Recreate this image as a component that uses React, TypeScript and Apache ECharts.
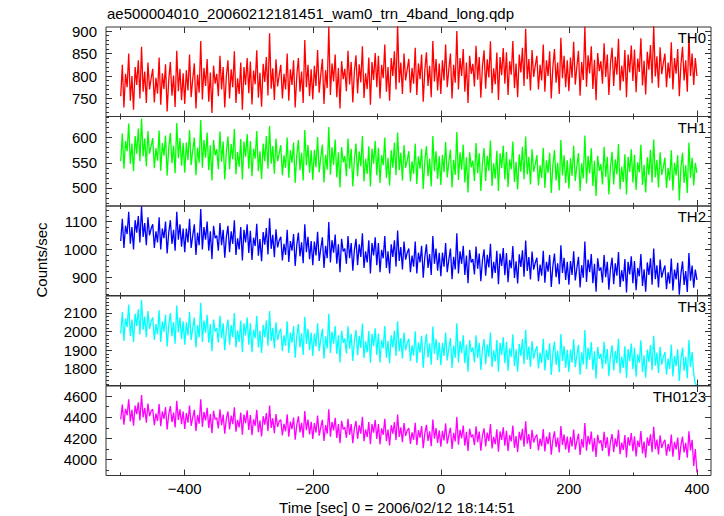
import React, { useEffect, useRef } from "react";
import * as echarts from "echarts";

const TITLE = "ae500004010_20060212181451_wam0_trn_4band_long.qdp";
const X_NAME = "Time [sec] 0 = 2006/02/12 18:14:51";
const Y_NAME = "Counts/sec";
const PANEL_NAMES = ["TH0", "TH1", "TH2", "TH3", "TH0123"];
const PANEL_COLORS = ["#ff0000", "#00ff00", "#0000ff", "#00ffff", "#ff00ff"];
const TIME_START = -500;
const TIME_STEP = 2.5;

const TH0 = [
  755, 825, 730, 805, 775, 850, 745, 800, 725, 820, 780, 835, 750, 865, 765, 810, 740, 830, 770, 795,
  816, 741, 796, 761, 841, 736, 806, 771, 826, 721, 791, 831, 756, 801, 731, 856, 766, 816, 746, 806,
  738, 813, 768, 848, 753, 793, 828, 728, 803, 763, 878, 748, 818, 778, 838, 743, 808, 718, 823, 783,
  805, 755, 845, 770, 820, 730, 800, 835, 750, 815, 775, 855, 740, 795, 760, 830, 725, 820, 780, 840,
  762, 832, 737, 812, 782, 857, 752, 807, 732, 827, 787, 842, 757, 895, 772, 817, 747, 837, 777, 802,
  825, 750, 805, 770, 850, 745, 815, 780, 835, 730, 800, 840, 765, 810, 740, 880, 775, 825, 755, 815,
  748, 823, 778, 858, 763, 803, 838, 738, 813, 773, 910, 758, 828, 788, 848, 753, 818, 728, 833, 793,
  816, 766, 856, 781, 831, 741, 811, 846, 761, 826, 786, 866, 751, 806, 771, 841, 736, 831, 791, 851,
  775, 845, 750, 825, 795, 870, 765, 820, 745, 840, 800, 855, 770, 915, 785, 830, 760, 850, 790, 815,
  838, 763, 818, 783, 863, 758, 828, 793, 848, 743, 813, 853, 778, 823, 753, 878, 788, 838, 768, 828,
  760, 835, 790, 870, 775, 815, 850, 750, 825, 785, 900, 770, 840, 800, 860, 765, 830, 740, 845, 805,
  827, 777, 867, 792, 842, 752, 822, 857, 772, 837, 797, 877, 762, 817, 782, 852, 747, 842, 802, 862,
  783, 853, 758, 833, 803, 878, 773, 828, 753, 848, 808, 863, 778, 905, 793, 838, 768, 858, 798, 823,
  845, 770, 825, 790, 870, 765, 835, 800, 855, 750, 820, 860, 785, 830, 760, 885, 795, 845, 775, 835,
  766, 841, 796, 876, 781, 821, 856, 756, 831, 791, 910, 776, 846, 806, 866, 771, 836, 746, 851, 811,
  833, 783, 873, 798, 848, 758, 828, 863, 778, 843, 803, 883, 768, 823, 788, 858, 753, 848, 808, 868,
  789, 859, 764, 839, 809, 884, 779, 834, 759, 854, 814, 869, 784, 912, 799, 844, 774, 864, 804, 829,
  850, 775, 830, 795, 875, 770, 840, 805, 860, 755, 825, 865, 790, 835, 765, 890, 800, 850, 780, 840,
  800,
];

const TH1 = [
  553, 608, 538, 593, 573, 628, 548, 588, 533, 603, 568, 618, 553, 638, 563, 598, 543, 613, 568, 583,
  599, 539, 579, 554, 614, 534, 589, 564, 604, 524, 579, 609, 549, 584, 529, 629, 559, 599, 544, 589,
  530, 590, 555, 615, 545, 575, 600, 525, 580, 550, 635, 540, 595, 560, 610, 535, 585, 515, 595, 565,
  577, 537, 612, 552, 592, 517, 572, 602, 537, 587, 557, 617, 527, 572, 542, 597, 517, 592, 562, 607,
  538, 593, 523, 578, 558, 613, 533, 573, 518, 588, 553, 603, 538, 623, 548, 583, 528, 598, 553, 568,
  585, 525, 565, 540, 600, 520, 575, 550, 590, 510, 565, 595, 535, 570, 515, 615, 545, 585, 530, 575,
  516, 576, 541, 601, 531, 561, 586, 511, 566, 536, 621, 526, 581, 546, 596, 521, 571, 501, 581, 551,
  563, 523, 598, 538, 578, 503, 558, 588, 523, 573, 543, 603, 513, 558, 528, 583, 503, 578, 548, 593,
  525, 580, 510, 565, 545, 600, 520, 560, 505, 575, 540, 590, 525, 610, 535, 570, 515, 585, 540, 555,
  573, 513, 553, 528, 588, 508, 563, 538, 578, 498, 553, 583, 523, 558, 503, 603, 533, 573, 518, 563,
  506, 566, 531, 591, 521, 551, 576, 501, 556, 526, 611, 516, 571, 536, 586, 511, 561, 491, 571, 541,
  554, 514, 589, 529, 569, 494, 549, 579, 514, 564, 534, 594, 504, 549, 519, 574, 494, 569, 539, 584,
  517, 572, 502, 557, 537, 592, 512, 552, 497, 567, 532, 582, 517, 602, 527, 562, 507, 577, 532, 547,
  565, 505, 545, 520, 580, 500, 555, 530, 570, 490, 545, 575, 515, 550, 495, 595, 525, 565, 510, 555,
  499, 559, 524, 584, 514, 544, 569, 494, 549, 519, 604, 509, 564, 529, 579, 504, 554, 484, 564, 534,
  547, 507, 582, 522, 562, 487, 542, 572, 507, 557, 527, 587, 497, 542, 512, 567, 487, 562, 532, 577,
  511, 566, 496, 551, 531, 586, 506, 546, 491, 561, 526, 576, 511, 596, 521, 556, 501, 571, 526, 541,
  560, 500, 540, 515, 575, 495, 550, 525, 565, 475, 540, 570, 510, 545, 490, 590, 520, 560, 505, 550,
  530,
];

const TH2 = [
  1030, 1110, 1005, 1085, 1055, 1135, 1020, 1080, 1000, 1105, 1060, 1120, 1025, 1155, 1045, 1095, 1015, 1115, 1050, 1075,
  1090, 1005, 1065, 1025, 1115, 1000, 1075, 1040, 1100, 985, 1060, 1105, 1020, 1070, 995, 1135, 1035, 1090, 1010, 1075,
  990, 1075, 1025, 1110, 1005, 1050, 1090, 980, 1060, 1015, 1145, 1000, 1080, 1035, 1100, 995, 1065, 965, 1085, 1040,
  1050, 995, 1095, 1015, 1070, 970, 1045, 1085, 990, 1065, 1020, 1105, 980, 1040, 1000, 1080, 960, 1070, 1025, 1090,
  987, 1067, 962, 1042, 1012, 1092, 977, 1037, 957, 1062, 1017, 1077, 982, 1112, 1002, 1052, 972, 1072, 1007, 1032,
  1045, 960, 1020, 980, 1070, 955, 1030, 995, 1055, 940, 1015, 1060, 975, 1025, 950, 1090, 990, 1045, 965, 1030,
  943, 1028, 978, 1063, 958, 1003, 1043, 933, 1013, 968, 1098, 953, 1033, 988, 1053, 948, 1018, 918, 1038, 993,
  1003, 948, 1048, 968, 1023, 923, 998, 1038, 943, 1018, 973, 1058, 933, 993, 953, 1033, 913, 1023, 978, 1043,
  943, 1023, 918, 998, 968, 1048, 933, 993, 913, 1018, 973, 1033, 938, 1068, 958, 1008, 928, 1028, 963, 988,
  1003, 918, 978, 938, 1028, 913, 988, 953, 1013, 898, 973, 1018, 933, 983, 908, 1048, 948, 1003, 923, 988,
  903, 988, 938, 1023, 918, 963, 1003, 893, 973, 928, 1058, 913, 993, 948, 1013, 908, 978, 878, 998, 953,
  965, 910, 1010, 930, 985, 885, 960, 1000, 905, 980, 935, 1020, 895, 955, 915, 995, 875, 985, 940, 1005,
  907, 987, 882, 962, 932, 1012, 897, 957, 877, 982, 937, 997, 902, 1032, 922, 972, 892, 992, 927, 952,
  970, 885, 945, 905, 995, 880, 955, 920, 980, 865, 940, 985, 900, 950, 875, 1015, 915, 970, 890, 955,
  873, 958, 908, 993, 888, 933, 973, 863, 943, 898, 1028, 883, 963, 918, 983, 878, 948, 848, 968, 923,
  935, 880, 980, 900, 955, 855, 930, 970, 875, 950, 905, 990, 865, 925, 885, 965, 845, 955, 910, 975,
  878, 958, 853, 933, 903, 983, 868, 928, 848, 953, 908, 968, 873, 1003, 893, 943, 863, 963, 898, 923,
  942, 857, 917, 877, 967, 852, 927, 892, 952, 837, 912, 957, 872, 922, 847, 987, 887, 942, 862, 927,
  890,
];

const TH3 = [
  1990, 2105, 1950, 2070, 2025, 2145, 1975, 2065, 1945, 2095, 2030, 2120, 1985, 2170, 2010, 2080, 1970, 2110, 2015, 2055,
  2075, 1955, 2040, 1985, 2115, 1945, 2055, 2000, 2090, 1920, 2035, 2100, 1975, 2050, 1935, 2140, 1995, 2075, 1960, 2055,
  1930, 2050, 1980, 2105, 1955, 2020, 2075, 1915, 2035, 1970, 2155, 1945, 2060, 1995, 2090, 1940, 2040, 1895, 2065, 2000,
  2020, 1940, 2085, 1965, 2045, 1900, 2010, 2065, 1930, 2035, 1970, 2100, 1915, 2005, 1945, 2060, 1890, 2045, 1980, 2075,
  1930, 2045, 1890, 2010, 1965, 2085, 1915, 2005, 1885, 2035, 1970, 2060, 1925, 2110, 1950, 2020, 1910, 2050, 1955, 1995,
  2015, 1895, 1980, 1925, 2055, 1885, 1995, 1940, 2030, 1860, 1975, 2040, 1915, 1990, 1875, 2080, 1935, 2015, 1900, 1995,
  1870, 1990, 1920, 2045, 1895, 1960, 2015, 1855, 1975, 1910, 2095, 1885, 2000, 1935, 2030, 1880, 1980, 1835, 2005, 1940,
  1963, 1883, 2028, 1908, 1988, 1843, 1953, 2008, 1873, 1978, 1913, 2043, 1858, 1948, 1888, 2003, 1833, 1988, 1923, 2018,
  1875, 1990, 1835, 1955, 1910, 2030, 1860, 1950, 1830, 1980, 1915, 2005, 1870, 2055, 1895, 1965, 1855, 1995, 1900, 1940,
  1962, 1842, 1927, 1872, 2002, 1832, 1942, 1887, 1977, 1807, 1922, 1987, 1862, 1937, 1822, 2027, 1882, 1962, 1847, 1942,
  1820, 1940, 1870, 1995, 1845, 1910, 1965, 1805, 1925, 1860, 2045, 1835, 1950, 1885, 1980, 1830, 1930, 1785, 1955, 1890,
  1915, 1835, 1980, 1860, 1940, 1795, 1905, 1960, 1825, 1930, 1865, 1995, 1810, 1900, 1840, 1955, 1785, 1940, 1875, 1970,
  1830, 1945, 1790, 1910, 1865, 1985, 1815, 1905, 1785, 1935, 1870, 1960, 1825, 2010, 1850, 1920, 1810, 1950, 1855, 1895,
  1922, 1802, 1887, 1832, 1962, 1792, 1902, 1847, 1937, 1767, 1882, 1947, 1822, 1897, 1782, 1987, 1842, 1922, 1807, 1902,
  1784, 1904, 1834, 1959, 1809, 1874, 1929, 1769, 1889, 1824, 2009, 1799, 1914, 1849, 1944, 1794, 1894, 1749, 1919, 1854,
  1881, 1801, 1946, 1826, 1906, 1761, 1871, 1926, 1791, 1896, 1831, 1961, 1776, 1866, 1806, 1921, 1751, 1906, 1841, 1936,
  1798, 1913, 1758, 1878, 1833, 1953, 1783, 1873, 1753, 1903, 1838, 1928, 1793, 1978, 1818, 1888, 1778, 1918, 1823, 1863,
  1890, 1770, 1855, 1800, 1930, 1760, 1870, 1815, 1905, 1735, 1850, 1915, 1790, 1865, 1750, 1955, 1810, 1890, 1775, 1720,
  1715,
];

const TH0123 = [
  4380, 4520, 4330, 4480, 4420, 4570, 4360, 4470, 4320, 4510, 4430, 4540, 4370, 4610, 4400, 4490, 4350, 4530, 4410, 4460,
  4475, 4325, 4435, 4365, 4525, 4315, 4455, 4385, 4495, 4285, 4425, 4505, 4355, 4445, 4305, 4555, 4375, 4475, 4335, 4455,
  4290, 4440, 4350, 4510, 4320, 4400, 4470, 4270, 4420, 4340, 4570, 4310, 4450, 4370, 4490, 4300, 4430, 4250, 4460, 4380,
  4395, 4295, 4475, 4325, 4425, 4245, 4385, 4455, 4285, 4415, 4335, 4495, 4265, 4375, 4305, 4445, 4235, 4425, 4345, 4465,
  4280, 4420, 4230, 4380, 4320, 4470, 4260, 4370, 4220, 4410, 4330, 4440, 4270, 4510, 4300, 4390, 4250, 4430, 4310, 4360,
  4378, 4228, 4338, 4268, 4428, 4218, 4358, 4288, 4398, 4188, 4328, 4408, 4258, 4348, 4208, 4458, 4278, 4378, 4238, 4358,
  4196, 4346, 4256, 4416, 4226, 4306, 4376, 4176, 4326, 4246, 4476, 4216, 4356, 4276, 4396, 4206, 4336, 4156, 4366, 4286,
  4305, 4205, 4385, 4235, 4335, 4155, 4295, 4365, 4195, 4325, 4245, 4405, 4175, 4285, 4215, 4355, 4145, 4335, 4255, 4375,
  4195, 4335, 4145, 4295, 4235, 4385, 4175, 4285, 4135, 4325, 4245, 4355, 4185, 4425, 4215, 4305, 4165, 4345, 4225, 4275,
  4298, 4148, 4258, 4188, 4348, 4138, 4278, 4208, 4318, 4108, 4248, 4328, 4178, 4268, 4128, 4378, 4198, 4298, 4158, 4278,
  4122, 4272, 4182, 4342, 4152, 4232, 4302, 4102, 4252, 4172, 4402, 4142, 4282, 4202, 4322, 4132, 4262, 4082, 4292, 4212,
  4236, 4136, 4316, 4166, 4266, 4086, 4226, 4296, 4126, 4256, 4176, 4336, 4106, 4216, 4146, 4286, 4076, 4266, 4186, 4306,
  4132, 4272, 4082, 4232, 4172, 4322, 4112, 4222, 4072, 4262, 4182, 4292, 4122, 4362, 4152, 4242, 4102, 4282, 4162, 4212,
  4238, 4088, 4198, 4128, 4288, 4078, 4218, 4148, 4258, 4048, 4188, 4268, 4118, 4208, 4068, 4318, 4138, 4238, 4098, 4218,
  4065, 4215, 4125, 4285, 4095, 4175, 4245, 4045, 4195, 4115, 4345, 4085, 4225, 4145, 4265, 4075, 4205, 4025, 4235, 4155,
  4182, 4082, 4262, 4112, 4212, 4032, 4172, 4242, 4072, 4202, 4122, 4282, 4052, 4162, 4092, 4232, 4022, 4212, 4132, 4252,
  4080, 4220, 4030, 4180, 4120, 4270, 4060, 4170, 4020, 4210, 4130, 4240, 4070, 4310, 4100, 4190, 4050, 4230, 4110, 4160,
  4188, 4038, 4148, 4078, 4238, 4028, 4168, 4098, 4208, 3998, 4138, 4218, 4068, 4158, 4018, 4268, 4088, 4188, 3940, 4100,
  3880,
];

const SERIES_VALUES = [TH0, TH1, TH2, TH3, TH0123];

const X_MIN = -523;
const X_MAX = 422;
const X_MAJOR = [-400, -200, 0, 200, 400];
const X_MINOR = [-500, -300, -100, 100, 300];

const Y_MIN = [710, 464, 834, 1711, 3851];
const Y_MAX = [909, 642, 1156, 2191, 4695];
const Y_MAJOR = [
  [750, 800, 850, 900],
  [500, 550, 600],
  [900, 1000, 1100],
  [1800, 1900, 2000, 2100],
  [4000, 4200, 4400, 4600],
];
const Y_MINOR_STEP = [10, 10, 20, 20, 100];

const FONT = "'Liberation Sans', Arial, Helvetica, sans-serif";
const GRID_LEFT = 106;
const GRID_RIGHT = 13;
const GRID_TOPS = [27, 116.5, 206, 296, 386];
const GRID_H = 89.5;
const AXIS_COLOR = "#333";

function minorTicks(min: number, max: number, step: number, major: number[]) {
  const out: number[] = [];
  for (let v = Math.ceil(min / step) * step; v <= max; v += step) {
    if (!major.includes(v)) out.push(v);
  }
  return out;
}

function fmt(v: number) {
  return v < 0 ? "\u2212" + Math.abs(v) : String(v);
}

function makeAxis(
  kind: "x" | "y",
  g: number,
  position: string,
  vals: number[],
  len: number,
  labels: boolean,
  min: number,
  max: number
) {
  return {
    type: "value",
    gridIndex: g,
    position,
    min,
    max,
    axisLine: { show: false, onZero: false },
    splitLine: { show: false },
    axisTick: {
      show: true,
      inside: true,
      length: len,
      customValues: vals,
      lineStyle: { color: AXIS_COLOR, width: 1 },
    },
    axisLabel: {
      show: labels,
      customValues: vals,
      fontSize: 15,
      fontFamily: FONT,
      color: "#000",
      margin: kind === "x" ? 5 : 9,
      formatter: (v: number) => fmt(v),
    },
  };
}

export default function App() {
  const ref = useRef<HTMLDivElement>(null);

  useEffect(() => {
    if (!ref.current) return;
    const chart = echarts.init(ref.current, undefined, { renderer: "svg" });

    const grids: any[] = [];
    const xAxes: any[] = [];
    const yAxes: any[] = [];
    const series: any[] = [];
    const graphics: any[] = [];

    for (let g = 0; g < 5; g++) {
      grids.push({
        left: GRID_LEFT,
        right: GRID_RIGHT,
        top: GRID_TOPS[g],
        height: GRID_H,
        show: true,
        borderColor: AXIS_COLOR,
        borderWidth: 1,
        backgroundColor: "transparent",
      });
      const last = g === 4;
      xAxes.push(makeAxis("x", g, "bottom", X_MAJOR, 6, last, X_MIN, X_MAX));
      xAxes.push(makeAxis("x", g, "bottom", X_MINOR, 3, false, X_MIN, X_MAX));
      xAxes.push(makeAxis("x", g, "top", X_MAJOR, 6, false, X_MIN, X_MAX));
      xAxes.push(makeAxis("x", g, "top", X_MINOR, 3, false, X_MIN, X_MAX));
      const minor = minorTicks(Y_MIN[g], Y_MAX[g], Y_MINOR_STEP[g], Y_MAJOR[g]);
      yAxes.push(makeAxis("y", g, "left", Y_MAJOR[g], 6, true, Y_MIN[g], Y_MAX[g]));
      yAxes.push(makeAxis("y", g, "left", minor, 3, false, Y_MIN[g], Y_MAX[g]));
      yAxes.push(makeAxis("y", g, "right", Y_MAJOR[g], 6, false, Y_MIN[g], Y_MAX[g]));
      yAxes.push(makeAxis("y", g, "right", minor, 3, false, Y_MIN[g], Y_MAX[g]));

      series.push({
        type: "line",
        name: PANEL_NAMES[g],
        xAxisIndex: g * 4,
        yAxisIndex: g * 4,
        data: SERIES_VALUES[g].map((v, i) => [TIME_START + i * TIME_STEP, v]),
        showSymbol: false,
        symbol: "none",
        silent: true,
        clip: true,
        lineStyle: { color: PANEL_COLORS[g], width: 1.3 },
        z: 1,
      });

      graphics.push({
        type: "text",
        right: 18,
        top: GRID_TOPS[g] + 3,
        style: {
          text: PANEL_NAMES[g],
          fontSize: 15,
          fontFamily: FONT,
          fill: "#000",
        },
        z: 10,
      });
    }

    graphics.push({
      type: "text",
      left: 107,
      top: 6,
      style: { text: TITLE, fontSize: 15, fontFamily: FONT, fill: "#000" },
    });
    graphics.push({
      type: "text",
      x: 397,
      y: 507,
      style: {
        text: X_NAME,
        fontSize: 15,
        fontFamily: FONT,
        fill: "#000",
        align: "center",
        verticalAlign: "middle",
      },
    });
    graphics.push({
      type: "text",
      x: 41,
      y: 260,
      rotation: Math.PI / 2,
      style: {
        text: Y_NAME,
        fontSize: 15,
        fontFamily: FONT,
        fill: "#000",
        align: "center",
        verticalAlign: "middle",
      },
    });

    chart.setOption({
      animation: false,
      backgroundColor: "#fff",
      grid: grids,
      xAxis: xAxes,
      yAxis: yAxes,
      series,
      graphic: graphics,
    });

    return () => chart.dispose();
  }, []);

  return (
    <div
      ref={ref}
      style={{ position: "fixed", left: 0, top: 0, width: 724, height: 516 }}
    />
  );
}
